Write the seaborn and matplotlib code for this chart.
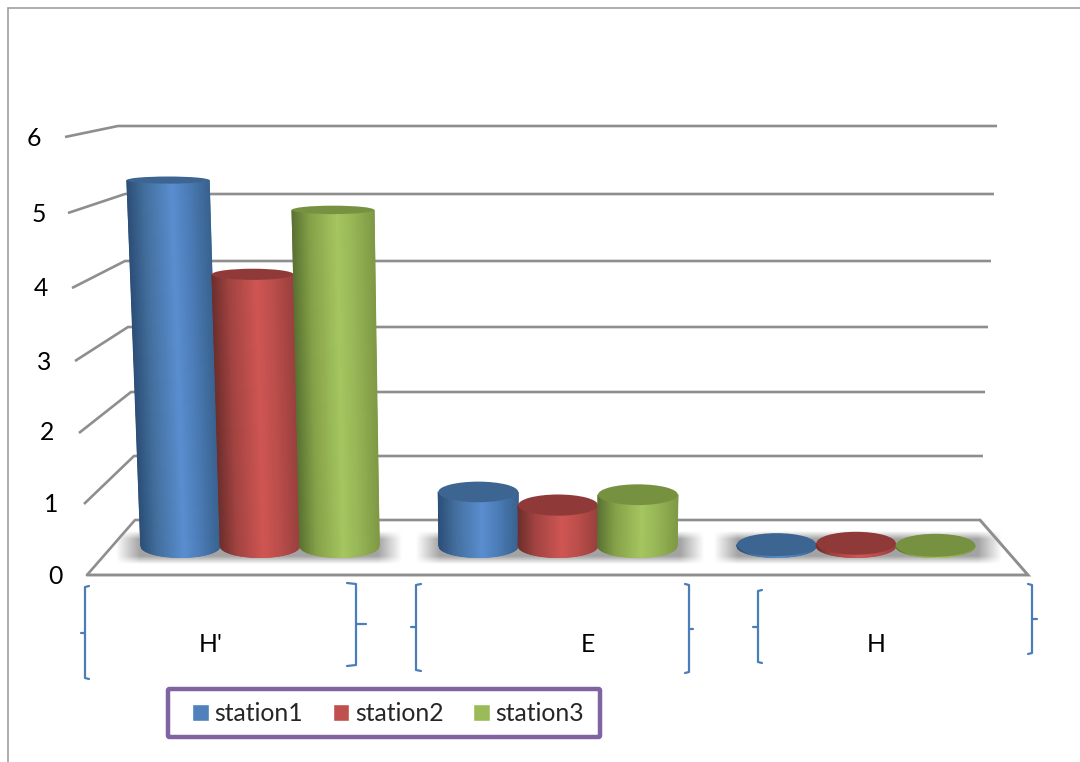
import numpy as np
import pandas as pd
import seaborn as sns
import matplotlib
matplotlib.use("Agg")
import matplotlib.pyplot as plt
from matplotlib.colors import LinearSegmentedColormap
from matplotlib.patches import Ellipse, FancyBboxPatch

# Diversity indices per sampling station
categories = ["H'", "E", "H"]
stations = ["station1", "station2", "station3"]
station1 = [5.28, 0.78, 0.02]
station2 = [3.92, 0.59, 0.04]
station3 = [4.85, 0.74, 0.01]
y_ticks = [0, 1, 2, 3, 4, 5, 6]

W, H = 1080, 762
sns.set_theme(style="white")
plt.rcParams["font.family"] = ["Lato", "DejaVu Sans"]

# Swatch colour, then cylinder shading stops and the cap colour per series
swatches = ["#4f81bd", "#c0504d", "#9bbb59"]
shades = [
    ["#2c4f78", "#44709f", "#5a8ed0", "#4c7db8", "#39628f"],
    ["#6e2f2d", "#a34442", "#cf5653", "#bc4e4b", "#9a403e"],
    ["#5a7232", "#86a249", "#a5c660", "#97b656", "#7f9a45"],
]
caps = ["#3d6591", "#8f3a38", "#76913f"]

df = pd.DataFrame({
    "index": categories * 3,
    "station": np.repeat(stations, 3),
    "value": station1 + station2 + station3,
})

fig = plt.figure(figsize=(W / 100, H / 100), dpi=100)

# Pixel-addressed layer for the 3-D frame, annotations and shadows
deco = fig.add_axes([0, 0, 1, 1], zorder=0)
deco.set_xlim(0, W)
deco.set_ylim(H, 0)
deco.axis("off")

GRID = "#8e8e8e"
deco.plot([8, 8], [H, 7.5], color="#a0a0a0", lw=1.2)
deco.plot([8, W], [7.5, 7.5], color="#a0a0a0", lw=1.2)

# Gridlines: front wall point, back wall point, right end on the back wall
front = [(87, 575), (84, 504), (79, 433), (75, 361), (72, 288), (68, 213), (65, 137)]
back = [(135, 520), (134, 456), (131, 392), (128, 327), (125, 261), (125, 194), (118, 126)]
right = [980, 983, 985, 988, 991, 994, 997]
for f, b, r in zip(front, back, right):
    deco.plot([f[0], b[0], r], [f[1], b[1], b[1]], color=GRID, lw=1.9, solid_capstyle="butt")
deco.plot([87, 1028, 980], [575, 575, 520], color=GRID, lw=2.1, solid_joinstyle="miter")

label_pos = [(55, 576), (51, 505), (47, 433), (44, 362), (41, 289), (39, 214), (34, 139)]
for tick, (tx, ty) in zip(y_ticks, label_pos):
    deco.text(tx, ty, str(tick), ha="center", va="center", fontsize=17.8, color="black")


def soft_edge(grid, lo, hi, soft):
    return (np.clip((grid - lo) / soft, 0, 1) * np.clip((hi - grid) / soft, 0, 1))


# Blurred floor shadows under each cluster
xs = np.arange(100, 1010)
ys = np.arange(525, 570)
for x0, x1 in [(116, 402), (416, 704), (714, 1002)]:
    alpha = np.outer(soft_edge(ys + 0.5, 531, 564, 8), soft_edge(xs + 0.5, x0, x1, 24))
    rgba = np.zeros((len(ys), len(xs), 4))
    rgba[..., :3] = 0.52
    rgba[..., 3] = alpha * 0.75
    deco.imshow(rgba, extent=(xs[0], xs[-1] + 1, ys[-1] + 1, ys[0]), aspect="auto",
                interpolation="bilinear", zorder=1)
deco.set_xlim(0, W)
deco.set_ylim(H, 0)

# Brackets around the category labels: x, top, bottom, nib y, nib dir, serif dir
BLUE = "#4a7ebb"
brackets = [
    (85, 586, 679, 633, -4, 4), (356, 583, 666, 624, 10, -9),
    (416, 584, 671, 627, -5, 5), (689, 584, 673, 629, 4, -4),
    (758, 590, 663, 627, -5, 4), (1032, 584, 654, 619, 5, -4),
]
for bx, top, bottom, nib, nib_dx, serif_dx in brackets:
    deco.plot([bx + serif_dx, bx, bx, bx + serif_dx], [top, top + 1, bottom - 1, bottom],
              color=BLUE, lw=1.6, solid_joinstyle="round")
    deco.plot([bx, bx + nib_dx], [nib, nib], color=BLUE, lw=1.6)

for name, lx in zip(categories, [211, 588, 876]):
    deco.text(lx, 644, name, ha="center", va="center", fontsize=17.8, color="black")

# Purple box behind the legend entries
deco.add_patch(FancyBboxPatch((168, 689), 432, 48, boxstyle="round,pad=0,rounding_size=1.5",
                              facecolor="white", edgecolor="#8064a2", linewidth=3.2, zorder=2))

# Bar layer: one category spans 298 px, one value unit spans 69.3 px
BASE_Y = 546
UNIT = 69.3
SPAN = 298
left = 111
rect = [left / W, (H - BASE_Y) / H, 3 * SPAN / W, 6 * UNIT / H]
ax = fig.add_axes(rect, zorder=2)
ax.patch.set_alpha(0)
sns.barplot(data=df, x="index", y="value", hue="station", palette=swatches,
            saturation=1, errorbar=None, width=0.8, ax=ax)
ax.set_xlim(-0.5, 2.5)
ax.set_ylim(0, 6)
ax.set(xlabel="", ylabel="", xticks=[], yticks=[])
sns.despine(ax=ax, left=True, bottom=True)

handles, labels = ax.get_legend_handles_labels()
ax.get_legend().remove()
ax.legend(handles, labels, ncol=3, loc="center", bbox_to_anchor=(388 / W, 1 - 713.5 / H),
          bbox_transform=fig.transFigure, fontsize=17.8, frameon=False,
          handlelength=0.68, handleheight=0.68, handletextpad=0.22, columnspacing=1.2,
          borderpad=0, borderaxespad=0)

# Numeric twin of the bar layer that carries the shaded cylinders
cyl = fig.add_axes(rect, zorder=3)
cyl.patch.set_alpha(0)
cyl.axis("off")

VANISH = 0.94      # category position the bars lean away from
LEAN = 0.0066      # horizontal spread per value unit


def semi_minor(v):
    return (11.5 - 1.5 * v) / UNIT


s = np.linspace(0, 1, 81)
for series, container in enumerate(ax.containers):
    cmap = LinearSegmentedColormap.from_list(
        f"cyl{series}", list(zip([0, 0.22, 0.55, 0.75, 1], shades[series])))
    for bar in container:
        bar.set_facecolor("none")
        bar.set_edgecolor("none")
        x0, w, v = bar.get_x(), bar.get_width(), bar.get_height()
        arc = np.sqrt(np.clip(1 - (2 * s - 1) ** 2, 0, 1))
        base_x = x0 + s * w
        top_x = base_x + (base_x - VANISH) * LEAN * v
        X = np.vstack([base_x, top_x])
        Y = np.vstack([-semi_minor(0) * arc, v - semi_minor(v) * arc])
        cyl.pcolormesh(X, Y, np.vstack([s, s]), cmap=cmap, vmin=0, vmax=1,
                       shading="gouraud", clip_on=False, zorder=3 + series)
        cyl.add_patch(Ellipse(((top_x[0] + top_x[-1]) / 2, v), top_x[-1] - top_x[0], 2 * semi_minor(v),
                              facecolor=caps[series], edgecolor="none", clip_on=False, zorder=3 + series))
cyl.set_xlim(-0.5, 2.5)
cyl.set_ylim(0, 6)

fig.savefig("out.png", dpi=100)
